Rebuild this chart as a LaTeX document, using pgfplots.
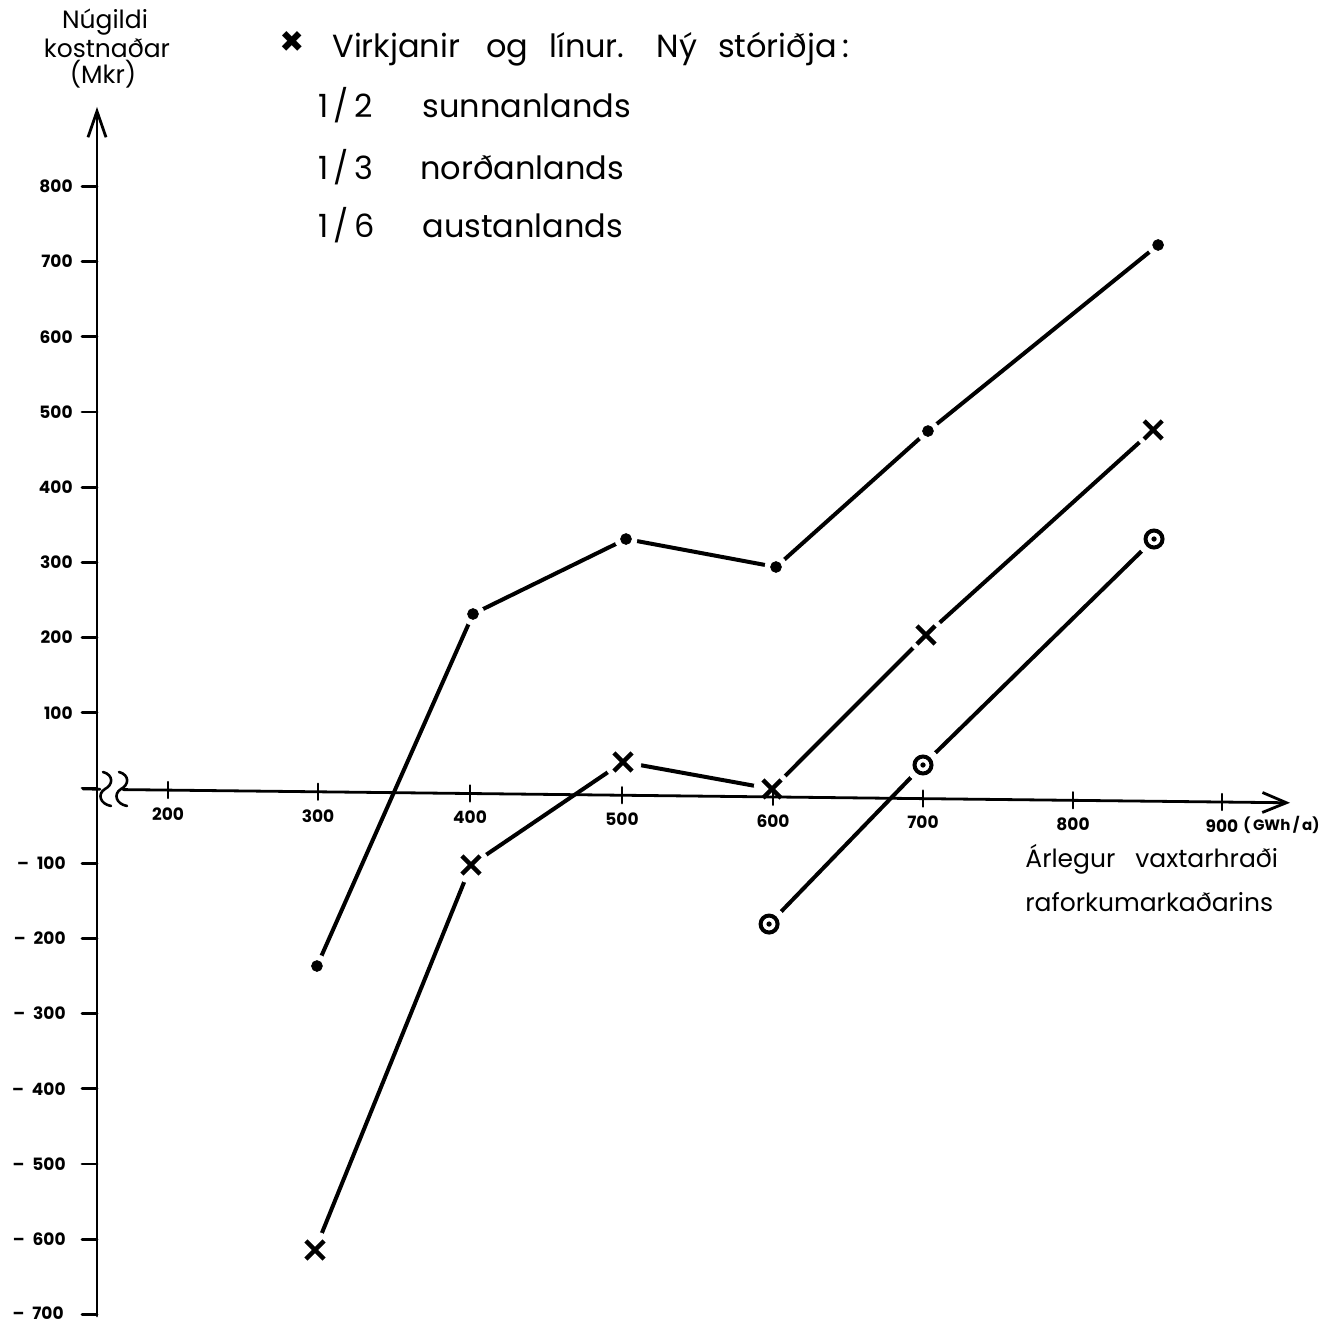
\documentclass[border=0pt]{standalone}
\usepackage{fontspec}
\setmainfont{Poppins}
\usepackage{pgfplots}
\pgfplotsset{compat=1.18}
\usetikzlibrary{arrows.meta}
\newcommand{\ticklab}{\fontsize{8.5}{10}\selectfont\bfseries}
\newcommand{\bigtxt}{\fontsize{16}{19}\selectfont}
\begin{document}
\begin{tikzpicture}
\useasboundingbox (0,0) rectangle (667pt,661.5pt);
\begin{axis}[at={(0,0)}, anchor=south west, scale only axis,
  width=667pt, height=661.5pt,
  xmin=88.45, xmax=974.2, ymin=-711.4, ymax=1047.9,
  hide axis, clip=false]
% --- series with dots
\addplot[line width=2pt, black, line cap=round] coordinates {(298.9,-236.7) (402.5,231.4) (504.1,331.1) (603.7,293.9) (704.6,474.7) (857.4,722.1)};
\addplot[only marks, mark=*, mark size=5.5pt, white, mark options={draw=white, fill=white}] coordinates {(298.9,-236.7) (402.5,231.4) (504.1,331.1) (603.7,293.9) (704.6,474.7) (857.4,722.1)};
\addplot[only marks, mark=*, mark size=2.7pt, black] coordinates {(298.9,-236.7) (402.5,231.4) (504.1,331.1) (603.7,293.9) (704.6,474.7) (857.4,722.1)};
% --- series with crosses
\addplot[line width=2pt, black, line cap=round] coordinates {(297.6,-614.4) (401.2,-102.4) (502.1,34.6) (601.1,-1.3) (703.3,203.5) (854.1,476.1)};
\addplot[only marks, mark=*, mark size=9pt, white, mark options={draw=white, fill=white}] coordinates {(297.6,-614.4) (401.2,-102.4) (502.1,34.6) (601.1,-1.3) (703.3,203.5) (854.1,476.1)};
\addplot[only marks, mark=x, mark size=6.4pt, black, mark options={line width=2.2pt}] coordinates {(297.6,-614.4) (401.2,-102.4) (502.1,34.6) (601.1,-1.3) (703.3,203.5) (854.1,476.1)};
% --- series with circled dots
\addplot[line width=2pt, black, line cap=round] coordinates {(599.1,-180.9) (701.3,30.6) (854.7,331.1)};
\addplot[only marks, mark=*, mark size=8.5pt, white, mark options={draw=white, fill=white}] coordinates {(599.1,-180.9) (701.3,30.6) (854.7,331.1)};
\addplot[only marks, mark=o, mark size=4.25pt, black, mark options={line width=2pt}] coordinates {(599.1,-180.9) (701.3,30.6) (854.7,331.1)};
\addplot[only marks, mark=*, mark size=1.1pt, black] coordinates {(599.1,-180.9) (701.3,30.6) (854.7,331.1)};
\end{axis}
\begin{scope}[yshift=661.5pt, x=0.5pt, y=-0.5pt, line cap=round]
% y axis
\draw[line width=1.4pt, -{Straight Barb[length=13pt,width=9pt]}] (97,1316) -- (97,107);
\foreach \v in {-700,-600,...,800} {
  \draw[line width=1.4pt] (82,{788-0.752*\v}) -- (97,{788-0.752*\v});
}
\foreach \v in {100,200,...,800} {
  \node[anchor=east, font=\ticklab, inner sep=0pt] at (73,{788-0.752*\v}) {\v};
}
\foreach \v in {100,200,...,600} {
  \node[anchor=east, font=\ticklab, inner sep=0pt] at (66,{788+0.752*\v}) {\textendash\hspace{4pt}\v};
}
\node[anchor=east, font=\ticklab, inner sep=0pt] at (64,1313) {\textendash\hspace{4pt}700};
% x axis
\draw[line width=1.4pt] (83,789) -- (100,789.2);
\draw[line width=1.4pt, -{Straight Barb[length=12pt,width=10pt]}] (123,789.6) -- (1290,802.8);
\foreach \t/\px in {200/168,300/318,400/470,500/622,600/773,700/923,800/1073,900/1222} {
  \pgfmathsetmacro\py{790+(\px-168)*0.01139}
  \draw[line width=1.2pt] (\px,{\py-8}) -- (\px,{\py+8});
  \node[font=\ticklab, inner sep=0pt] at (\px,{\py+24}) {\t};
}
\node[anchor=west, font=\fontsize{7.5}{9}\selectfont\bfseries, inner sep=0pt] at (1243,825) {(\,GWh\,/\,a)};
% break marks
\draw[line width=1.3pt] (103,772) .. controls (114,775) and (113,785) .. (105,789) .. controls (97,794) and (100,804) .. (111,806);
\draw[line width=1.3pt] (119,772) .. controls (130,775) and (129,785) .. (121,789) .. controls (113,794) and (116,804) .. (127,806);
% y label
\node[anchor=base, font=\fontsize{12.5}{15}\selectfont, inner sep=0pt] at (105,29) {Núgildi};
\node[anchor=base, font=\fontsize{12.5}{15}\selectfont, inner sep=0pt] at (107,58) {kostnaðar};
\node[anchor=base, font=\fontsize{12.5}{15}\selectfont, inner sep=0pt] at (103,84) {(Mkr)};
% legend text
\node[font=\fontsize{20}{20}\selectfont\bfseries, inner sep=0pt] at (292,44) {×};
\node[anchor=base west, font=\bigtxt, inner sep=0pt] at (332,58) {Virkjanir\hspace{13pt}og\hspace{10.5pt}línur.\hspace{16pt}Ný\hspace{10.5pt}stóriðja\hspace{3pt}:};
\node[anchor=base west, font=\bigtxt, inner sep=0pt] at (318,118) {1\,/\,2};
\node[anchor=base west, font=\bigtxt, inner sep=0pt] at (422,118) {sunnanlands};
\node[anchor=base west, font=\bigtxt, inner sep=0pt] at (318,180) {1\,/\,3};
\node[anchor=base west, font=\bigtxt, inner sep=0pt] at (420,180) {norðanlands};
\node[anchor=base west, font=\bigtxt, inner sep=0pt] at (318,238) {1\,/\,6};
\node[anchor=base west, font=\bigtxt, inner sep=0pt] at (422,238) {austanlands};
% x label
\node[anchor=base west, font=\fontsize{12.5}{15}\selectfont, inner sep=0pt] at (1025,868) {Árlegur\hspace{10pt}vaxtarhraði};
\node[anchor=base west, font=\fontsize{12.5}{15}\selectfont, inner sep=0pt] at (1025,912) {raforkumarkaðarins};
\end{scope}
\end{tikzpicture}
\end{document}
